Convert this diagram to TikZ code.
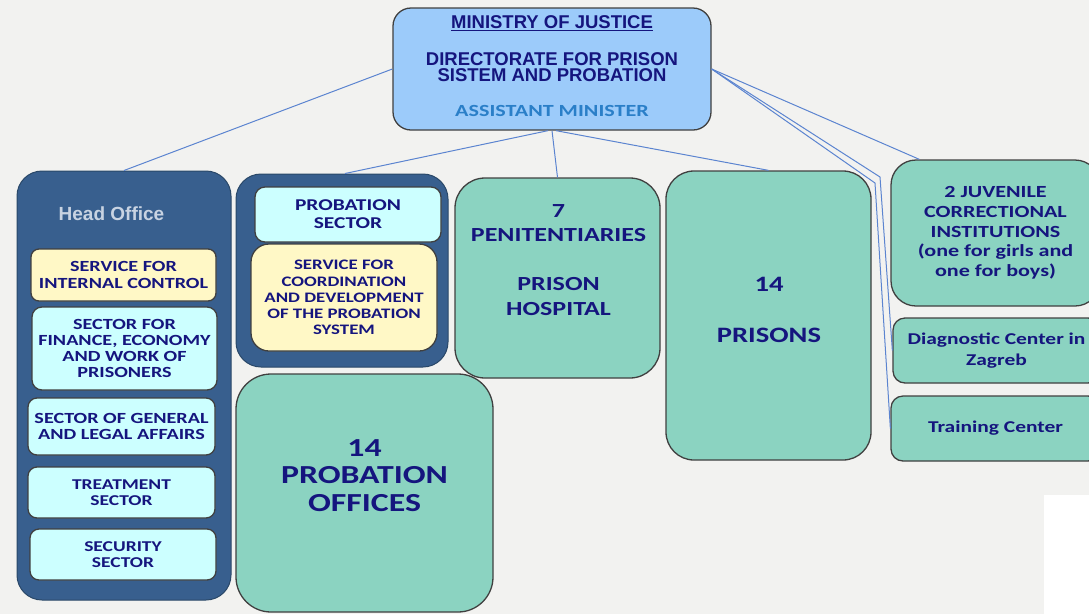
\documentclass[tikz,border=0pt]{standalone}
\usepackage{fontspec}
\setmainfont{Carlito}
\newfontfamily\tempfont{Carlito}[FakeStretch=1.3]
\newfontfamily\arialfont{Liberation Sans}
\usetikzlibrary{positioning}

\definecolor{paper}{HTML}{F2F2F0}
\definecolor{navy}{HTML}{15157E}
\definecolor{boxline}{HTML}{404040}
\definecolor{unitgreen}{HTML}{8BD3C1}
\definecolor{sectorcyan}{HTML}{CCFFFF}
\definecolor{serviceyellow}{HTML}{FFF8C6}
\definecolor{ministerblue}{HTML}{9CCBFA}
\definecolor{panelblue}{HTML}{385F8E}
\definecolor{panelline}{HTML}{2A4868}
\definecolor{headgray}{HTML}{C8D3E2}
\definecolor{assistblue}{HTML}{2A7FC8}
\definecolor{linkblue}{HTML}{5B84D0}

\newcommand{\boxtext}[2]{\tempfont\bfseries\fontsize{#1}{#2}\selectfont}

\begin{document}
\begin{tikzpicture}[x=1pt, y=-1pt,
    every node/.style={text=navy, align=center, inner sep=0pt},
    unit/.style={draw=boxline, line width=1.3pt, fill=unitgreen},
    sector/.style={unit, fill=sectorcyan},
    service/.style={unit, fill=serviceyellow},
    panel/.style={draw=panelline, line width=1pt, fill=panelblue},
    link/.style={draw=linkblue, line width=1pt}
  ]
  \useasboundingbox (0,0) rectangle (1089,614);
  \clip (0,0) rectangle (1089,614);
  \fill[paper] (0,0) rectangle (1089,614);
  \fill[white] (1044,495) rectangle (1089,614);

  % ministry
  \node[unit, fill=ministerblue, rounded corners=18pt, minimum width=318pt, minimum height=122pt] (min) at (552,69) {};
  \node[font=\arialfont\bfseries\fontsize{18.5}{16.5}\selectfont] (min title) at (552,23.5) {\underline{MINISTRY OF JUSTICE}};
  \node[font=\arialfont\bfseries\fontsize{18.5}{16.5}\selectfont] (min dir) at (552,67) {DIRECTORATE FOR PRISON\\SISTEM AND PROBATION};
  \node[text=assistblue, font=\boxtext{17}{20}] (min assist) at (552,110.5) {ASSISTANT MINISTER};

  % head office
  \node[panel, rounded corners=25pt, minimum width=214pt, minimum height=429pt] (head) at (124,385.5) {};
  \node[text=headgray, font=\arialfont\bfseries\fontsize{19}{22}\selectfont] (head title) at (111.5,214) {Head Office};
  \node[service, rounded corners=8pt, minimum width=185pt, minimum height=52pt, font=\boxtext{15.5}{17}] (control) at (123.5,275) {SERVICE FOR\\INTERNAL CONTROL};
  \node[sector, rounded corners=10pt, minimum width=185pt, minimum height=83pt, font=\boxtext{15.5}{16}] (finance) at (124.5,348.5) {SECTOR FOR\\FINANCE, ECONOMY\\AND WORK OF\\PRISONERS};
  \node[sector, rounded corners=9pt, minimum width=187pt, minimum height=57pt, font=\boxtext{15.5}{16.5}] (general) at (121.5,426.5) {SECTOR OF GENERAL\\AND LEGAL AFFAIRS};
  \node[sector, rounded corners=9pt, minimum width=187pt, minimum height=51pt, font=\boxtext{15}{15.5}] (treatment) at (121.5,492.5) {TREATMENT\\SECTOR};
  \node[sector, rounded corners=9pt, minimum width=186pt, minimum height=51pt, font=\boxtext{15}{15.5}] (security) at (123,554.5) {SECURITY\\SECTOR};

  % probation
  \node[panel, rounded corners=25pt, minimum width=212pt, minimum height=193pt] (probation) at (342,270.5) {};
  \node[sector, rounded corners=10pt, minimum width=186pt, minimum height=55pt, font=\boxtext{16.5}{18}] (prob sector) at (348,214.5) {PROBATION\\SECTOR};
  \node[service, rounded corners=18pt, minimum width=186pt, minimum height=107pt, font=\boxtext{14.5}{16.2}] (coordination) at (344,297.5) {SERVICE FOR\\COORDINATION\\AND DEVELOPMENT\\OF THE PROBATION\\SYSTEM};
  \node[unit, rounded corners=35pt, minimum width=257pt, minimum height=238pt] (offices) at (364.5,493) {};
  \node[font=\boxtext{26}{27.5}] (offices text) at (364.5,475.5) {14\\PROBATION\\OFFICES};

  % prisons
  \node[unit, rounded corners=30pt, minimum width=205pt, minimum height=200pt] (pen) at (557.5,278) {};
  \node[font=\boxtext{20}{24.5}] (pen text) at (558.5,260) {7\\PENITENTIARIES\\[24.5pt]PRISON\\HOSPITAL};
  \node[unit, rounded corners=28pt, minimum width=205pt, minimum height=289pt] (prisons) at (768.5,315.5) {};
  \node[font=\boxtext{22}{25.5}] (prisons text) at (769,310) {14\\[25.5pt]PRISONS};

  % right column
  \node[unit, rounded corners=25pt, minimum width=209pt, minimum height=146pt, font=\boxtext{17}{19.7}] (juvenile) at (995.5,233) {2 JUVENILE\\CORRECTIONAL\\INSTITUTIONS\\(one for girls and\\one for boys)};
  \node[unit, rounded corners=12pt, minimum width=207pt, minimum height=65pt, font=\boxtext{16.5}{21}] (diagnostic) at (996.5,350.5) {Diagnostic Center in\\Zagreb};
  \node[unit, rounded corners=12pt, minimum width=209pt, minimum height=65pt, font=\boxtext{16.5}{20}] (training) at (995.5,428.5) {Training Center};

  % links
  \coordinate (bend diag) at (880,177);
  \coordinate (bend train) at (875,183);
  \draw[link] (min.west) -- (head.north);
  \draw[link] ([xshift=-4pt]min.south) -- ([xshift=3pt]probation.north);
  \draw[link] (min.south) -- (pen.north);
  \draw[link] ([xshift=4pt]min.south) -- (prisons.north);
  \draw[link] (min.east) -- ([xshift=29pt]juvenile.north west);
  \draw[link] (min.east) -- (bend diag) -- (diagnostic.west);
  \draw[link] (min.east) -- (bend train) -- (training.west);
\end{tikzpicture}
\end{document}
